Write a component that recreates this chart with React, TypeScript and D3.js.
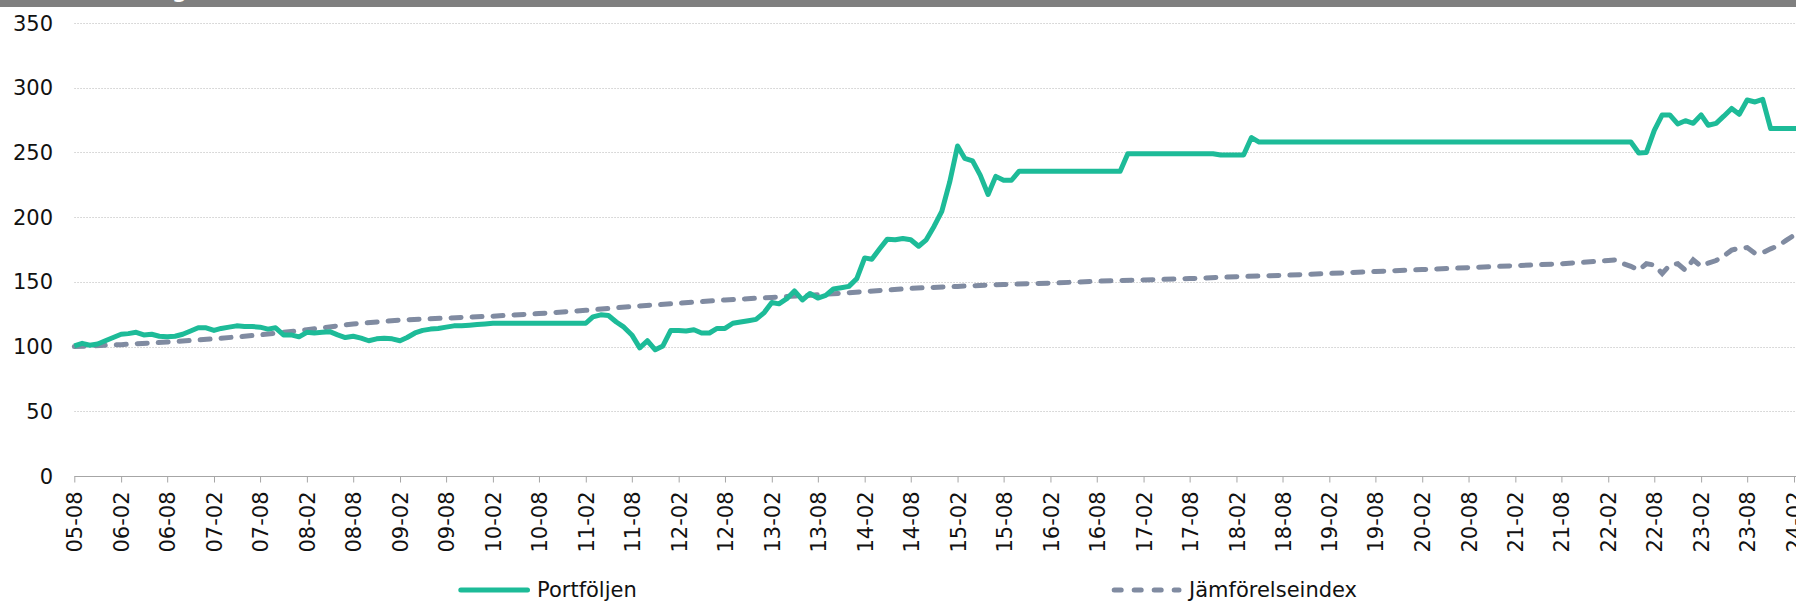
import { useRef, useEffect } from 'react'
import * as d3 from 'd3'

const WIDTH = 1796
const HEIGHT = 602

const title = 'Värdeutveckling'
const seriesNames = ['Portföljen', 'Jämförelseindex']

const portDates = [
  '2005-08', '2005-09', '2005-10', '2005-11', '2005-12', '2006-01', '2006-02', '2006-03', '2006-04', '2006-05',
  '2006-06', '2006-07', '2006-08', '2006-09', '2006-10', '2006-11', '2006-12', '2007-01', '2007-02', '2007-03',
  '2007-04', '2007-05', '2007-06', '2007-07', '2007-08', '2007-09', '2007-10', '2007-11', '2007-12', '2008-01',
  '2008-02', '2008-03', '2008-04', '2008-05', '2008-06', '2008-07', '2008-08', '2008-09', '2008-10', '2008-11',
  '2008-12', '2009-01', '2009-02', '2009-03', '2009-04', '2009-05', '2009-06', '2009-07', '2009-08', '2009-09',
  '2009-10', '2009-11', '2009-12', '2010-01', '2010-02', '2011-02', '2011-03', '2011-04', '2011-05', '2011-06',
  '2011-07', '2011-08', '2011-09', '2011-10', '2011-11', '2011-12', '2012-01', '2012-02', '2012-03', '2012-04',
  '2012-05', '2012-06', '2012-07', '2012-08', '2012-09', '2012-10', '2012-11', '2012-12', '2013-01', '2013-02',
  '2013-03', '2013-04', '2013-05', '2013-06', '2013-07', '2013-08', '2013-09', '2013-10', '2013-11', '2013-12',
  '2014-01', '2014-02', '2014-03', '2014-04', '2014-05', '2014-06', '2014-07', '2014-08', '2014-09', '2014-10',
  '2014-11', '2014-12', '2015-01', '2015-02', '2015-03', '2015-04', '2015-05', '2015-06', '2015-07', '2015-08',
  '2015-09', '2015-10', '2016-11', '2016-12', '2017-11', '2017-12', '2018-03', '2018-04', '2018-05', '2022-05',
  '2022-06', '2022-07', '2022-08', '2022-09', '2022-10', '2022-11', '2022-12', '2023-01', '2023-02', '2023-03',
  '2023-04', '2023-05', '2023-06', '2023-07', '2023-08', '2023-09', '2023-10', '2023-11', '2024-03',
]
const portValues = [
  100.5, 102.5, 101, 102, 104.5, 107, 109.5, 110, 111, 109,
  109.5, 108, 107.5, 108, 109.5, 112, 114.5, 114.5, 112.5, 114,
  115, 116, 115.5, 115.5, 115, 113.5, 114.5, 109, 109, 107.5,
  111, 110.5, 111, 111.5, 109, 107, 108, 106.5, 104.5, 106,
  106.5, 106, 104.5, 107, 110.5, 112.5, 113.5, 114, 115, 116,
  116, 116.5, 117, 117.5, 118, 118, 123, 124.5, 124, 119,
  115, 109, 99, 104.5, 97.5, 100.5, 112.5, 112.5, 112, 113,
  110.5, 110.5, 114, 114, 118, 119, 120, 121, 126, 134,
  133, 137, 143, 136, 141, 137.5, 139.5, 144.5, 145.5, 146.5,
  152.5, 168.5, 167.5, 175.5, 183, 182.5, 183.5, 182.5, 177.5, 182.5,
  193, 204.5, 227, 255, 245.5, 243.5, 232.5, 217.5, 231.5, 228.5,
  228.5, 235.5, 235.5, 249, 249, 248, 248, 261.5, 258, 258,
  249.5, 250, 267, 279, 279, 272, 274.5, 272.5, 279, 271,
  272.5, 278, 284, 279.5, 290.5, 289, 291, 268.5, 268.5,
]

const indexDates = [
  '2005-08', '2006-02', '2006-08', '2007-02', '2007-08', '2008-02', '2008-08', '2009-02', '2009-08', '2010-02',
  '2010-08', '2011-02', '2011-08', '2012-02', '2012-08', '2013-02', '2013-08', '2014-02', '2014-08', '2015-02',
  '2015-08', '2016-02', '2016-08', '2017-02', '2017-08', '2018-02', '2018-08', '2019-02', '2019-08', '2020-02',
  '2020-08', '2021-02', '2021-08', '2022-02', '2022-03', '2022-04', '2022-05', '2022-06', '2022-07', '2022-08',
  '2022-09', '2022-10', '2022-11', '2022-12', '2023-01', '2023-02', '2023-03', '2023-04', '2023-05', '2023-06',
  '2023-07', '2023-08', '2023-09', '2023-10', '2023-11', '2023-12', '2024-01', '2024-02', '2024-03',
]
const indexValues = [
  100, 101.5, 103.5, 106, 109, 113, 117.5, 120.5, 122, 123.5,
  125.5, 128, 131, 133.5, 136, 138, 140, 142.5, 145, 146.5,
  148, 149, 150.5, 151.5, 152.5, 154, 155, 156.5, 158, 159.5,
  161, 162.5, 164, 166.5, 167, 164, 162, 159, 164, 163,
  156.5, 163, 164, 159, 167, 162, 164.5, 166.5, 170, 174.5,
  176, 176.5, 172, 172.5, 175.5, 178, 182, 186, 190,
]

const xTickLabels = [
  '05-08', '06-02', '06-08', '07-02', '07-08', '08-02', '08-08', '09-02', '09-08', '10-02',
  '10-08', '11-02', '11-08', '12-02', '12-08', '13-02', '13-08', '14-02', '14-08', '15-02',
  '15-08', '16-02', '16-08', '17-02', '17-08', '18-02', '18-08', '19-02', '19-08', '20-02',
  '20-08', '21-02', '21-08', '22-02', '22-08', '23-02', '23-08', '24-02',
]
const yTicks = [0, 50, 100, 150, 200, 250, 300, 350]

const GREEN = '#1dbb98'
const SLATE = '#808ba1'

export default function App() {
  const svgRef = useRef<SVGSVGElement>(null)

  useEffect(() => {
    if (!svgRef.current) return
    const svg = d3.select(svgRef.current)
    svg.selectAll('*').remove()

    const parseMonth = d3.timeParse('%Y-%m')
    const parseTick = d3.timeParse('%y-%m')
    const tickDates = xTickLabels.map((t) => parseTick(t) as Date)

    const left = 74.3
    const right = 1794
    const top = 23
    const bottom = 476

    const x = d3.scaleTime().domain([tickDates[0], tickDates[tickDates.length - 1]]).range([left, right])
    const y = d3.scaleLinear().domain([0, 350]).range([bottom, top])

    // title bar, cropped at the top
    svg.append('rect').attr('x', 0).attr('y', 0).attr('width', WIDTH).attr('height', 7).attr('fill', '#7f7f7f')
    svg.append('text')
      .attr('x', 187).attr('y', -2)
      .attr('text-anchor', 'end')
      .attr('font-weight', 'bold')
      .attr('fill', '#fff')
      .text(title)

    // gridlines
    svg.append('g')
      .selectAll('line')
      .data(yTicks.filter((d) => d > 0))
      .join('line')
      .attr('x1', left).attr('x2', WIDTH)
      .attr('y1', (d) => Math.round(y(d)) + 0.5)
      .attr('y2', (d) => Math.round(y(d)) + 0.5)
      .attr('stroke', '#cfcfcf')
      .attr('stroke-dasharray', '1.5,1.5')

    // y labels
    svg.append('g')
      .selectAll('text')
      .data(yTicks)
      .join('text')
      .attr('x', 53)
      .attr('y', (d) => y(d))
      .attr('dy', '0.36em')
      .attr('text-anchor', 'end')
      .attr('fill', '#111')
      .text((d) => d)

    // x axis
    const ax = svg.append('g').attr('transform', `translate(0,${Math.round(bottom) + 0.5})`)
    ax.call(d3.axisBottom(x).tickValues(tickDates).tickSize(6).tickSizeOuter(0).tickFormat((_, i) => xTickLabels[i]))
      .call((g) => {
        g.select('.domain').remove()
        g.selectAll('.tick line').attr('stroke', '#a6a6a6')
        g.selectAll('.tick text')
          .attr('transform', 'rotate(-90)')
          .attr('text-anchor', 'end')
          .attr('x', -15)
          .attr('y', 0)
          .attr('dy', '0.36em')
          .attr('fill', '#111')
          .attr('font-size', 21)
          .attr('font-family', 'DejaVu Sans')
      })
    ax.append('line').attr('x1', left).attr('x2', WIDTH).attr('stroke', '#a6a6a6')

    const line = d3.line<[string, number]>()
      .x((d) => x(parseMonth(d[0]) as Date))
      .y((d) => y(d[1]))

    const indexData = indexDates.map((d, i) => [d, indexValues[i]] as [string, number])
    const portData = portDates.map((d, i) => [d, portValues[i]] as [string, number])

    svg.append('path')
      .datum(indexData)
      .attr('fill', 'none')
      .attr('stroke', SLATE)
      .attr('stroke-width', 5)
      .attr('stroke-linecap', 'round')
      .attr('stroke-dasharray', '10,11')
      .attr('d', line)

    svg.append('path')
      .datum(portData)
      .attr('fill', 'none')
      .attr('stroke', GREEN)
      .attr('stroke-width', 5)
      .attr('stroke-linejoin', 'round')
      .attr('d', line)

    // legend
    const legend = svg.append('g')
    legend.append('line')
      .attr('x1', 460.8).attr('x2', 527.5).attr('y1', 590).attr('y2', 590)
      .attr('stroke', GREEN).attr('stroke-width', 5).attr('stroke-linecap', 'round')
    legend.append('text').attr('x', 537).attr('y', 597).attr('fill', '#111').text(seriesNames[0])
    legend.append('line')
      .attr('x1', 1114.2).attr('x2', 1179).attr('y1', 590).attr('y2', 590)
      .attr('stroke', SLATE).attr('stroke-width', 5).attr('stroke-linecap', 'round')
      .attr('stroke-dasharray', '7,13')
    legend.append('text').attr('x', 1189).attr('y', 597).attr('fill', '#111').text(seriesNames[1])
  }, [])

  return (
    <svg
      ref={svgRef}
      width={WIDTH}
      height={HEIGHT}
      style={{ position: 'absolute', left: 0, top: 0, display: 'block', background: '#fff' }}
      fontFamily="DejaVu Sans"
      fontSize={21}
    />
  )
}
